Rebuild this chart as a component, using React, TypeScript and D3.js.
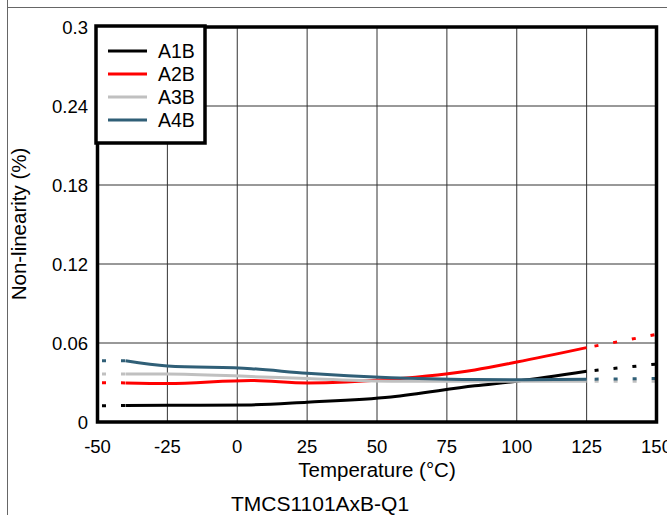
import React from "react";
import * as d3 from "d3";

const temps = [-40, -25, 5, 25, 55, 85, 100, 125];
const seriesNames = ["A1B", "A2B", "A3B", "A4B"];
const a1b = [0.0125, 0.0127, 0.013, 0.015, 0.019, 0.0275, 0.031, 0.0385];
const a2b = [0.0297, 0.0292, 0.0315, 0.0297, 0.0325, 0.0395, 0.0455, 0.0565];
const a3b = [0.0365, 0.0365, 0.0345, 0.033, 0.031, 0.031, 0.031, 0.031];
const a4b = [0.0465, 0.0425, 0.0405, 0.037, 0.0336, 0.0322, 0.032, 0.0325];
// extrapolated (dotted) ends at -50 and 150 °C
const extLow = [0.0123, 0.0299, 0.0365, 0.0465];
const extHigh = [0.044, 0.0665, 0.031, 0.033];
const colors = ["#000000", "#ff0000", "#c0c0c0", "#305f77"];
const xTicks = [-50, -25, 0, 25, 50, 75, 100, 125, 150];
const yTicks = [0, 0.06, 0.12, 0.18, 0.24, 0.3];
const yTickLabels = ["0", "0.06", "0.12", "0.18", "0.24", "0.3"];

const FONT = "'Liberation Sans', Arial, Helvetica, sans-serif";

export default function App() {
  const W = 667;
  const H = 515;
  const left = 97.5;
  const right = 656.5;
  const top = 27;
  const bottom = 422;
  const x = d3.scaleLinear().domain([-50, 150]).range([left, right]);
  const y = d3.scaleLinear().domain([0, 0.3]).range([bottom, top]);
  const all = [a1b, a2b, a3b, a4b];
  const line = d3
    .line<[number, number]>()
    .x((d) => x(d[0]))
    .y((d) => y(d[1]))
    .curve(d3.curveMonotoneX);
  const straight = d3
    .line<[number, number]>()
    .x((d) => x(d[0]))
    .y((d) => y(d[1]));

  const legX = 96;
  const legY = 26;
  const legW = 109;
  const legH = 117;

  return (
    <div style={{ position: "absolute", left: 0, top: 0 }}>
      <svg width={W} height={H} style={{ display: "block", background: "#fff" }}>
        {/* outer frame */}
        <line x1={7.5} x2={7.5} y1={0} y2={H} stroke="#666" strokeWidth={1} />
        <line x1={7.5} x2={W} y1={7.5} y2={7.5} stroke="#666" strokeWidth={1} />

        {/* grid */}
        {xTicks.slice(1, -1).map((t) => (
          <line key={"gx" + t} x1={x(t)} x2={x(t)} y1={top} y2={bottom} stroke="#333" strokeWidth={1} />
        ))}
        {yTicks.slice(1, -1).map((t) => (
          <line key={"gy" + t} x1={left} x2={right} y1={y(t)} y2={y(t)} stroke="#333" strokeWidth={1} />
        ))}

        {/* data */}
        {all.map((vals, i) => {
          const pts: [number, number][] = temps.map((t, j) => [t, vals[j]]);
          const lowSeg: [number, number][] = [[-50, extLow[i]], [temps[0], vals[0]]];
          const highSeg: [number, number][] = [[temps[temps.length - 1], vals[vals.length - 1]], [150, extHigh[i]]];
          return (
            <g key={seriesNames[i]}>
              <path d={line(pts) || ""} fill="none" stroke={colors[i]} strokeWidth={3} />
              <path d={straight(lowSeg) || ""} fill="none" stroke={colors[i]} strokeWidth={3} strokeDasharray="4 15" strokeDashoffset={14.5} />
              <path d={straight(highSeg) || ""} fill="none" stroke={colors[i]} strokeWidth={3} strokeDasharray="4 15" strokeDashoffset={11} />
            </g>
          );
        })}

        {/* plot border */}
        <rect x={left} y={top} width={right - left} height={bottom - top} fill="none" stroke="#000" strokeWidth={3.5} />

        {/* legend */}
        <rect x={legX} y={legY} width={legW} height={legH} fill="#fff" stroke="#000" strokeWidth={3.5} />
        {seriesNames.map((n, i) => {
          const ry = 51 + i * 23;
          return (
            <g key={"leg" + n}>
              <line x1={108} x2={147} y1={ry} y2={ry} stroke={colors[i]} strokeWidth={3} />
              <text x={158} y={ry} dy="0.36em" fontFamily={FONT} fontSize={19.5} fill="#000">
                {n}
              </text>
            </g>
          );
        })}

        {/* y tick labels */}
        {yTicks.map((t, i) => (
          <text key={"yl" + t} x={88} y={y(t)} dy="0.36em" textAnchor="end" fontFamily={FONT} fontSize={18.5} fill="#000">
            {yTickLabels[i]}
          </text>
        ))}
        {/* x tick labels */}
        {xTicks.map((t) => (
          <text key={"xl" + t} x={x(t)} y={453} textAnchor="middle" fontFamily={FONT} fontSize={18.5} fill="#000">
            {String(t)}
          </text>
        ))}

        {/* axis titles */}
        <text x={377} y={477} textAnchor="middle" fontFamily={FONT} fontSize={20.5} fill="#000">
          Temperature (°C)
        </text>
        <text transform={`translate(26,224) rotate(-90)`} textAnchor="middle" fontFamily={FONT} fontSize={20.5} fill="#000">
          Non-linearity (%)
        </text>
        <text x={320} y={511} textAnchor="middle" fontFamily={FONT} fontSize={21} fill="#000">
          TMCS1101AxB-Q1
        </text>
      </svg>
    </div>
  );
}
